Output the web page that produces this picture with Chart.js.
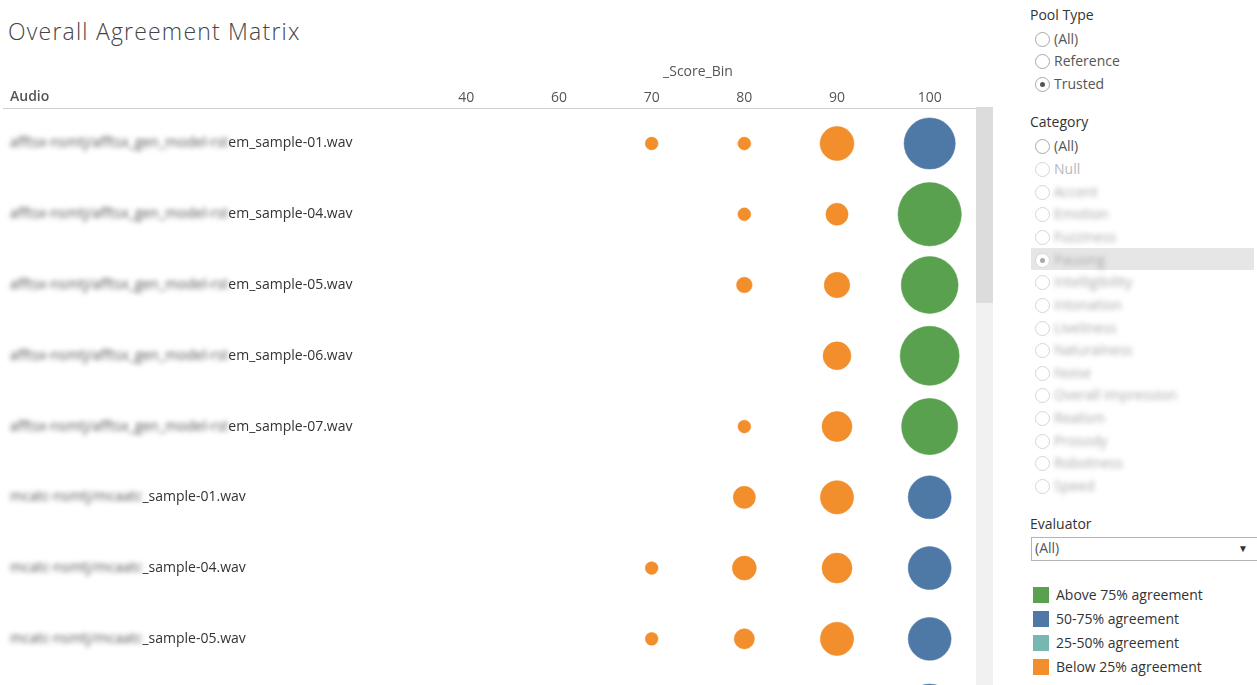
<!DOCTYPE html>
<html>
<head>
<meta charset="utf-8">
<title>Overall Agreement Matrix</title>
<script src="https://cdn.jsdelivr.net/npm/chart.js@4/dist/chart.umd.min.js"></script>
<style>
  body { margin: 0; width: 1257px; height: 685px; overflow: hidden; position: relative; background: #fff; font-family: 'Open Sans', sans-serif; }
  #title { position: absolute; left: 8px; top: 15px; font-family: 'Open Sans', sans-serif; font-weight: 300; font-size: 23px; letter-spacing: 1.2px; color: #444; white-space: nowrap; }
  #matrix { position: absolute; left: 0; top: 0; }
  .track { position: absolute; left: 976px; top: 107px; width: 17px; height: 578px; background: #f1f1f1; }
  .thumb { position: absolute; left: 976px; top: 107px; width: 17px; height: 196px; background: #dcdcdc; }
  .txt { position: absolute; font-size: 14px; line-height: 20px; white-space: nowrap; }
  .radio { position: absolute; width: 13px; height: 13px; border: 1px solid #a9a9a9; border-radius: 50%; background: #fff; box-sizing: content-box; }
  .radio.off { border-color: #d6d6d6; }
  .dot { position: absolute; left: 4px; top: 4px; width: 5px; height: 5px; border-radius: 50%; background: #555; }
  .swatch { position: absolute; width: 16px; height: 16px; }
</style>
</head>
<body>
<div id="title">Overall Agreement Matrix</div>
<canvas id="matrix" width="976" height="745"></canvas>
<div class="track"></div>
<div class="thumb"></div>
<div id="panel"></div>

<script>
const scoreBins = ['40', '60', '70', '80', '90', '100'];

// blurred-out part of each audio path, then the readable part
const audioHidden = [
  'afftsx-nsmtj/afftsx_gen_model-rst',
  'afftsx-nsmtj/afftsx_gen_model-rst',
  'afftsx-nsmtj/afftsx_gen_model-rst',
  'afftsx-nsmtj/afftsx_gen_model-rst',
  'afftsx-nsmtj/afftsx_gen_model-rst',
  'mcatc-nsmtj/mcaatc',
  'mcatc-nsmtj/mcaatc',
  'mcatc-nsmtj/mcaatc',
  'mcatc-nsmtj/mcaatc'
];
const audioShown = [
  'em_sample-01.wav',
  'em_sample-04.wav',
  'em_sample-05.wav',
  'em_sample-06.wav',
  'em_sample-07.wav',
  '_sample-01.wav',
  '_sample-04.wav',
  '_sample-05.wav',
  '_sample-06.wav'
];

// number of ratings per audio and score bin (null = none)
const ratingCounts = [
  [null, null, 4,    4,    28,   64],
  [null, null, null, 4,    12,   98],
  [null, null, null, 6,    16,   79],
  [null, null, null, null, 19,   85],
  [null, null, null, 4,    22,   77],
  [null, null, null, 12,   27,   45],
  [null, null, 4,    14,   22,   45],
  [null, null, 4,    10,   27,   45],
  [null, null, null, null, null, 64]
];

// agreement level per cell: 0 above 75%, 1 50-75%, 2 25-50%, 3 below 25%
const agreementLevels = [
  [null, null, 3,    3,    3,    1],
  [null, null, null, 3,    3,    0],
  [null, null, null, 3,    3,    0],
  [null, null, null, null, 3,    0],
  [null, null, null, 3,    3,    0],
  [null, null, null, 3,    3,    1],
  [null, null, 3,    3,    3,    1],
  [null, null, 3,    3,    3,    1],
  [null, null, null, null, null, 1]
];

const agreementLabels = ['Above 75% agreement', '50-75% agreement', '25-50% agreement', 'Below 25% agreement'];
const agreementColors = ['#59a14f', '#4e79a7', '#76b7b2', '#f28e2b'];

const poolTypes = ['(All)', 'Reference', 'Trusted'];
const categories = ['(All)', 'Null', 'Accent', 'Emotion', 'Fuzziness', 'Pausing', 'Intelligibility',
  'Intonation', 'Liveliness', 'Naturalness', 'Noise', 'Overall Impression', 'Realism', 'Prosody',
  'Robotness', 'Speed'];

const audioLabels = audioHidden.map((h, i) => h + audioShown[i]);

let datasets = agreementLabels.map((label, k) => {
  let points = [];
  ratingCounts.forEach((row, i) => {
    row.forEach((n, j) => {
      if (n !== null && agreementLevels[i][j] === k) {
        points.push({ x: scoreBins[j], y: audioLabels[i], r: 3.2 * Math.sqrt(n) });
      }
    });
  });
  return {
    label: label,
    data: points,
    backgroundColor: agreementColors[k],
    borderColor: agreementColors[k] + '88',
    borderWidth: 1
  };
});

// header line, "Audio" caption and row labels with the blurred prefix
const rowLabels = {
  id: 'rowLabels',
  afterDraw(chart) {
    let ctx = chart.ctx;
    let area = chart.chartArea;
    let yScale = chart.scales.y;
    ctx.save();
    ctx.strokeStyle = '#cfcfcf';
    ctx.lineWidth = 1;
    ctx.beginPath();
    ctx.moveTo(3, Math.round(area.top) + 0.5);
    ctx.lineTo(976, Math.round(area.top) + 0.5);
    ctx.stroke();

    ctx.textBaseline = 'middle';
    ctx.font = "600 14px 'Open Sans'";
    ctx.fillStyle = '#555';
    ctx.fillText('Audio', 10, area.top - 11);

    ctx.font = "14px 'Open Sans'";
    audioLabels.forEach((label, i) => {
      let y = yScale.getPixelForValue(i);
      ctx.filter = 'blur(2.5px)';
      ctx.fillStyle = '#555';
      ctx.fillText(audioHidden[i], 10, y);
      let w = ctx.measureText(audioHidden[i]).width;
      ctx.filter = 'none';
      ctx.fillStyle = '#333';
      ctx.fillText(audioShown[i], 10 + w, y);
    });
    ctx.restore();
  }
};

Chart.defaults.font.family = "'Open Sans'";
Chart.defaults.font.size = 14;
Chart.defaults.color = '#555';

let ctx = document.getElementById('matrix');
let matrixChart = new Chart(ctx, {
  type: 'bubble',
  data: { datasets: datasets },
  options: {
    responsive: false,
    animation: false,
    events: [],
    layout: { autoPadding: false, padding: { top: 59.5, left: 0, right: 0, bottom: 0 } },
    plugins: {
      legend: { display: false },
      tooltip: { enabled: false }
    },
    scales: {
      x: {
        type: 'category',
        labels: scoreBins,
        position: 'top',
        offset: true,
        grid: { display: false, drawTicks: false },
        border: { display: false },
        ticks: { padding: 2, maxRotation: 0 },
        title: { display: true, text: '_Score_Bin', padding: { top: 4, bottom: 7 } }
      },
      y: {
        type: 'category',
        labels: audioLabels,
        offset: true,
        grid: { display: false, drawTicks: false },
        border: { display: false },
        ticks: { display: false },
        afterFit(scale) { scale.width = 420; }
      }
    }
  },
  plugins: [rowLabels]
});

// filter panel and colour legend
let panel = document.getElementById('panel');
function addText(text, x, cy, color, extra) {
  let d = document.createElement('div');
  d.className = 'txt';
  d.textContent = text;
  d.style.left = x + 'px';
  d.style.top = (cy - 10) + 'px';
  d.style.color = color;
  if (extra) Object.assign(d.style, extra);
  panel.appendChild(d);
  return d;
}
function addRadio(cy, checked, off) {
  let r = document.createElement('div');
  r.className = 'radio' + (off ? ' off' : '');
  r.style.left = '1035px';
  r.style.top = (cy - 7) + 'px';
  if (checked) {
    let dot = document.createElement('div');
    dot.className = 'dot';
    if (off) dot.style.background = '#aaa';
    r.appendChild(dot);
  }
  panel.appendChild(r);
}

addText('Pool Type', 1030, 15, '#333');
poolTypes.forEach((p, i) => {
  let cy = 39 + i * 22.3;
  addRadio(cy, p === 'Trusted', false);
  addText(p, 1054, cy, '#555');
});

addText('Category', 1030, 122, '#333');
let band = document.createElement('div');
band.style.cssText = 'position:absolute;left:1031px;top:248px;width:223px;height:22px;background:#e6e6e6;';
panel.appendChild(band);
categories.forEach((c, i) => {
  let cy = 146.3 + i * 22.65;
  addRadio(cy, c === 'Pausing', i > 0);
  if (i === 0) addText(c, 1054, cy, '#555');
  else if (i === 1) addText(c, 1054, cy, '#b8b8b8');
  else addText(c, 1054, cy, '#a8a8a8', { filter: 'blur(2.5px)' });
});

addText('Evaluator', 1030, 524, '#333');
let box = document.createElement('div');
box.style.cssText = 'position:absolute;left:1031px;top:537px;width:230px;height:22px;border:1px solid #b4b4b4;background:#fff;';
panel.appendChild(box);
addText('(All)', 1035, 548, '#555');
addText('\u25BC', 1238, 548, '#333', { fontSize: '10px' });

agreementLabels.forEach((label, k) => {
  let cy = 595 + k * 24;
  let s = document.createElement('div');
  s.className = 'swatch';
  s.style.left = '1033px';
  s.style.top = (cy - 8) + 'px';
  s.style.background = agreementColors[k];
  panel.appendChild(s);
  addText(label, 1056, cy, '#333');
});
</script>
</body>
</html>
